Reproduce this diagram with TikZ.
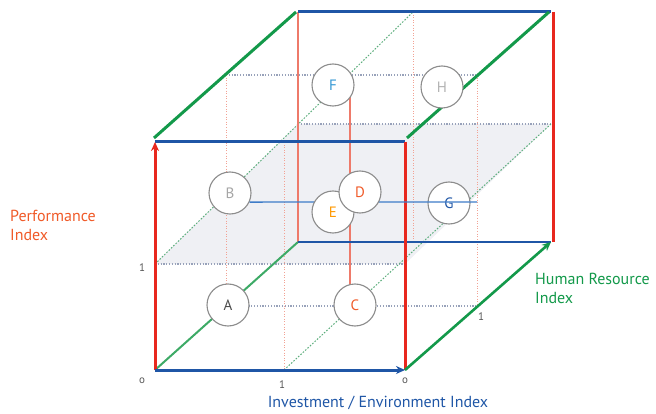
\documentclass[tikz,border=0pt]{standalone}
\usepackage{fontspec}
\setmainfont{PT Sans}
\usetikzlibrary{arrows.meta}
\definecolor{cred}{HTML}{E8281E}
\definecolor{csalmon}{HTML}{EE7A6A}
\definecolor{cblue}{HTML}{1F56A6}
\definecolor{cblueL}{HTML}{3E7CC8}
\definecolor{cgreen}{HTML}{13994A}
\definecolor{cgreenL}{HTML}{3DAA66}
\definecolor{cdotgray}{HTML}{98A2BA}
\definecolor{cdotred}{HTML}{F2A294}
\definecolor{cdotgreen}{HTML}{5EAE7E}
\definecolor{cshade}{HTML}{EFF0F4}
\definecolor{corange}{HTML}{F05A28}
\definecolor{ctick}{HTML}{555555}
\tikzset{
  dotgray/.style={cdotgray, line width=1.2pt, dash pattern=on 1.2pt off 1.6pt},
  dotred/.style={cdotred, line width=1pt, dash pattern=on 1pt off 1.6pt},
  dotgreen/.style={cdotgreen, line width=1pt, dash pattern=on 1.6pt off 1.6pt},
  thickedge/.style={line width=3pt},
  ball/.style={circle, draw=black!45, line width=1.1pt, fill=white, minimum size=42pt, inner sep=0pt, font=\fontsize{15}{15}\selectfont},
  tick/.style={text=ctick, font=\fontsize{11}{11}\selectfont, inner sep=0pt},
  axlabel/.style={font=\fontsize{16}{19}\selectfont, inner sep=0pt, align=left},
  tip/.style={-{Stealth[length=9pt,width=8pt]}}
}
\begin{document}
\begin{tikzpicture}[x=1pt,y=-1pt]
\useasboundingbox (0,0) rectangle (656,414);
% corners
\coordinate (O) at (155,370);
\coordinate (FBR) at (405,370);
\coordinate (FTL) at (155,142);
\coordinate (FTR) at (405,142);
\coordinate (BBL) at (298,242);
\coordinate (BBR) at (551,242);
\coordinate (BTL) at (298,12);
\coordinate (BTR) at (551,12);
% mid points
\coordinate (mL) at (155,264);
\coordinate (mR) at (405,264);
\coordinate (bmL) at (298,124);
\coordinate (bmR) at (551,124);
\coordinate (fmB) at (284,370);
\coordinate (fmT) at (284,142);
\coordinate (bmT) at (413,12);
\coordinate (bmB) at (413,242);
\coordinate (lT) at (226,75);
\coordinate (lB) at (226,306);
\coordinate (rT) at (477,75);
\coordinate (rB) at (477,306);
\coordinate (bEnd) at (477,202);
\coordinate (vT) at (350,76);
\coordinate (vB) at (350,305);
% shaded plane
\fill[cshade] (mL) -- (mR) -- (bmR) -- (bmL) -- cycle;
% dotted lines
\draw[dotgray] (mL) -- (mR);
\draw[dotgray] (bmL) -- (bmR);
\draw[dotgray] (lT) -- (rT);
\draw[dotgray] (lB) -- (rB);
\draw[dotred] (lT) -- (lB);
\draw[dotred] (fmT) -- (fmB);
\draw[dotred] (bmT) -- (bmB);
\draw[dotred] (rT) -- (rB);
\draw[dotgreen] (mL) -- (bmT);
\draw[dotgreen] (fmB) -- (bmR);
% back solid lines
\draw[csalmon, line width=2.2pt] (BTL) -- (BBL);
\draw[csalmon, line width=1.2pt] (vT) -- (vB);
\draw[cgreenL, line width=2pt] (O) -- (BBL);
\draw[cblue, line width=2.2pt] (BBL) -- (BBR);
\draw[cblue, thickedge] (BTL) -- (BTR);
\draw[cred, thickedge] (553,12) coordinate (rbT) -- (553,242) coordinate (rbB);
\draw[cgreen, thickedge] (154,138) coordinate (gl1) -- (296,12) coordinate (gl2);
\draw[cgreen, thickedge] (407,138) coordinate (gr1) -- (549,12) coordinate (gr2);
% front lines
\draw[cblue, thickedge] (FTL) -- (FTR);
\draw[cred, thickedge] (FTR) -- (FBR);
\draw[cred, thickedge, tip] (O) -- (FTL);
\draw[cblue, thickedge, tip] (O) -- (FBR);
\draw[cgreen, line width=2.6pt, tip] (FBR) -- (BBR);
% circles
\node[ball, text=black!70] (A) at (228,305) {A};
\node[ball, text=black!35] (B) at (230,193) {B};
\node[ball, text=corange] (C) at (355,305) {C};
\node[ball, text=cblueL!80!cyan] (F) at (333,85) {F};
\node[ball, text=black!30] (H) at (442,87) {H};
\node[ball, text=cblue] (G) at (449,203) {G};
\draw[cblueL, line width=1.3pt] (B.-25) -- (bEnd);
\node[ball, text=orange!80!yellow] (E) at (333,212) {E};
\node[ball, text=corange] (D) at (360,192) {D};
% ticks
\node[tick] (o1) at (142,381) {o};
\node[tick] (o2) at (405,381) {o};
\node[tick] (t1) at (142,268) {1};
\node[tick] (t2) at (282,385) {1};
\node[tick] (t3) at (481,317) {1};
% axis labels
\node[axlabel, text=corange, anchor=west] (perf) at (10,225) {Performance\\Index};
\node[axlabel, text=cblue] (inv) at (378,403) {Investment / Environment Index};
\node[axlabel, text=cgreen, anchor=west] (hum) at (535,288) {Human Resource\\Index};
\end{tikzpicture}
\end{document}
